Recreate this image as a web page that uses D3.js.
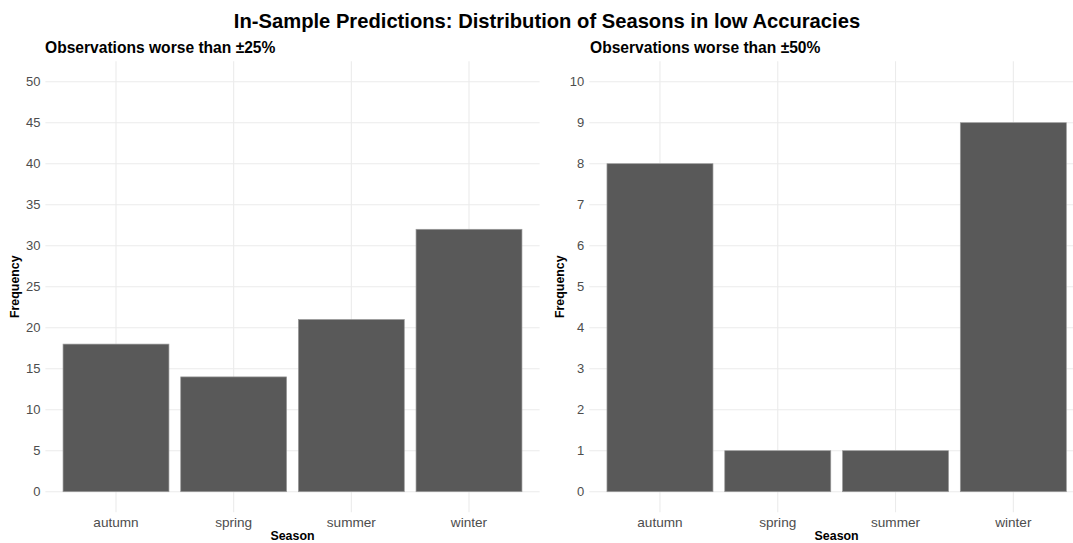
<!DOCTYPE html>
<html><head><meta charset="utf-8">
<script src="https://cdn.jsdelivr.net/npm/d3@7"></script>
<style>body{margin:0;background:#fff}svg{display:block;font-family:"Liberation Sans",Arial,sans-serif}</style>
</head><body>
<svg id="c" width="1073" height="543"></svg>
<script>
const categories = ["autumn","spring","summer","winter"];
const values25 = [18,14,21,32];
const values50 = [8,1,1,9];
const ticks25 = [0,5,10,15,20,25,30,35,40,45,50];
const ticks50 = [0,1,2,3,4,5,6,7,8,9,10];
const mainTitle = "In-Sample Predictions: Distribution of Seasons in low Accuracies";
const subtitles = ["Observations worse than \u00b125%","Observations worse than \u00b150%"];

const svg = d3.select("#c");
svg.append("text").attr("x",547).attr("y",28).attr("text-anchor","middle")
  .attr("font-size",20.2).attr("font-weight","bold").attr("fill","#000").text(mainTitle);

function panel(left, right, vals, ticks, ymax, sub, labX, ylabX){
  const top = 61.2, bottom = 512.2;
  const x = d3.scaleBand().domain(categories).range([left,right]).paddingInner(0.1).paddingOuter(0.15);
  const y = d3.scaleLinear().domain([-ymax*0.05, ymax*1.05]).range([bottom, top]);
  const g = svg.append("g");
  g.append("g").selectAll("line").data(ticks).join("line")
    .attr("x1",left).attr("x2",right).attr("y1",d=>y(d)).attr("y2",d=>y(d))
    .attr("stroke","#ebebeb").attr("stroke-width",1.1);
  g.append("g").selectAll("line").data(categories).join("line")
    .attr("x1",d=>x(d)+x.bandwidth()/2).attr("x2",d=>x(d)+x.bandwidth()/2).attr("y1",top).attr("y2",bottom)
    .attr("stroke","#ebebeb").attr("stroke-width",1.1);
  g.append("g").selectAll("rect").data(vals).join("rect")
    .attr("x",(d,i)=>x(categories[i])).attr("width",x.bandwidth())
    .attr("y",d=>y(d)).attr("height",d=>y(0)-y(d))
    .attr("fill","#595959").attr("stroke","#9a9a9a").attr("stroke-width",0.7);
  g.append("g").selectAll("text").data(ticks).join("text")
    .attr("x",left-5).attr("y",d=>y(d)).attr("dy","0.35em").attr("text-anchor","end")
    .attr("font-size",13).attr("fill","#4d4d4d").text(d=>d);
  g.append("g").selectAll("text").data(categories).join("text")
    .attr("x",d=>x(d)+x.bandwidth()/2).attr("y",527).attr("text-anchor","middle")
    .attr("font-size",13.6).attr("fill","#4d4d4d").text(d=>d);
  g.append("text").attr("x",(left+right)/2).attr("y",540).attr("text-anchor","middle")
    .attr("font-size",12.4).attr("font-weight","bold").attr("fill","#000").text("Season");
  g.append("text").attr("transform",`translate(${ylabX},${(top+bottom)/2}) rotate(-90)`)
    .attr("text-anchor","middle").attr("font-size",12.4).attr("font-weight","bold").attr("fill","#000").text("Frequency");
  g.append("text").attr("x",labX).attr("y",53).attr("font-size",15.6).attr("font-weight","bold").attr("fill","#000").text(sub);
}
panel(45.4, 539.6, values25, ticks25, 50, subtitles[0], 45, 19);
panel(589.3, 1084, values50, ticks50, 10, subtitles[1], 590, 564);
</script>
</body></html>
